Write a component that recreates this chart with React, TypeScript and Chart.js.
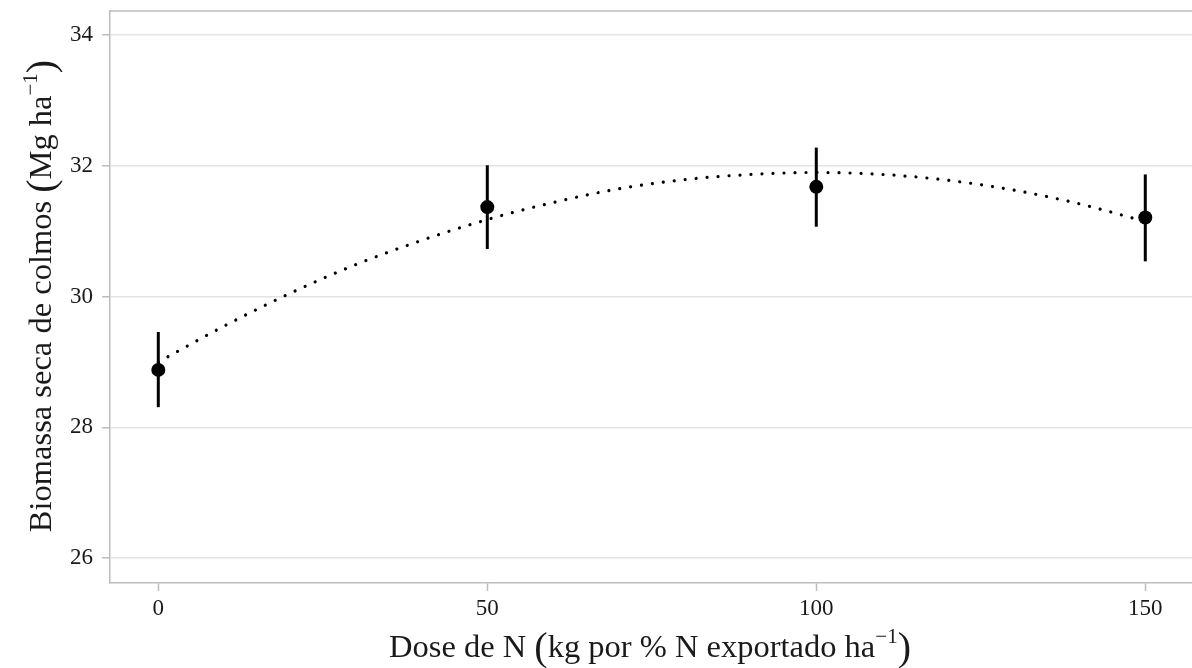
import React, { useEffect, useRef } from "react";
import { Chart, registerables } from "chart.js";

Chart.register(...registerables);

const doses = [0, 50, 100, 150];
const means = [28.88, 31.37, 31.68, 31.21];
const upper = [29.46, 32.01, 32.28, 31.87];
const lower = [28.31, 30.73, 31.07, 30.54];

const curveX = [0, 10, 20, 30, 40, 50, 60, 70, 80, 90, 100, 110, 120, 130, 140, 150];
const curveY = [29.0, 29.55, 30.05, 30.49, 30.86, 31.18, 31.44, 31.65, 31.79, 31.87, 31.9, 31.87, 31.78, 31.63, 31.42, 31.15];

const yTicks = [26, 28, 30, 32, 34];
const xTicks = [0, 50, 100, 150];

const FONT = "'Liberation Serif', 'Times New Roman', serif";
const TEXT = "#1a1a1a";
const AXIS = "#bdbdbd";
const GRID = "#e4e4e4";

type Seg = { t: string; size: number; dy: number };

function drawRich(ctx: CanvasRenderingContext2D, segs: Seg[]) {
  let total = 0;
  const widths = segs.map((s) => {
    ctx.font = `${s.size}px ${FONT}`;
    const w = ctx.measureText(s.t).width;
    total += w;
    return w;
  });
  let x = -total / 2;
  segs.forEach((s, i) => {
    ctx.font = `${s.size}px ${FONT}`;
    ctx.fillText(s.t, x, s.dy);
    x += widths[i];
  });
}

const titlePlugin = {
  id: "richTitles",
  afterDraw(chart: any) {
    const ctx = chart.ctx as CanvasRenderingContext2D;
    const area = chart.chartArea;
    ctx.save();
    ctx.fillStyle = TEXT;
    ctx.textBaseline = "alphabetic";
    ctx.textAlign = "left";
    ctx.strokeStyle = AXIS;
    ctx.lineWidth = 1.5;
    ctx.beginPath();
    ctx.moveTo(area.left, area.top);
    ctx.lineTo(area.right, area.top);
    ctx.stroke();
    ctx.save();
    ctx.translate(650, 657);
    drawRich(ctx, [
      { t: "Dose de N ", size: 32.5, dy: 0 },
      { t: "(", size: 40, dy: 3 },
      { t: "kg por % N exportado ha", size: 32.5, dy: 0 },
      { t: "\u22121", size: 21, dy: -14 },
      { t: ")", size: 40, dy: 3 },
    ]);
    ctx.restore();
    ctx.save();
    ctx.translate(51, 296);
    ctx.rotate(-Math.PI / 2);
    drawRich(ctx, [
      { t: "Biomassa seca de colmos ", size: 32.5, dy: 0 },
      { t: "(", size: 40, dy: 3 },
      { t: "Mg ha", size: 32.5, dy: 0 },
      { t: "\u22121", size: 21, dy: -14 },
      { t: ")", size: 40, dy: 3 },
    ]);
    ctx.restore();
    ctx.restore();
  },
};

export default function App() {
  const ref = useRef<HTMLCanvasElement | null>(null);

  useEffect(() => {
    document.body.style.margin = "0";
    const canvas = ref.current;
    if (!canvas) return;

    const errorSets = doses.map((d, i) => ({
      type: "line" as const,
      data: [
        { x: d, y: lower[i] },
        { x: d, y: upper[i] },
      ],
      borderColor: "#000",
      borderWidth: 3,
      pointRadius: 0,
      borderCapStyle: "butt" as const,
      order: 2,
    }));

    const chart = new Chart(canvas, {
      type: "scatter",
      data: {
        datasets: [
          {
            type: "line",
            data: curveX.map((x, i) => ({ x, y: curveY[i] })),
            borderColor: "#000",
            borderWidth: 3.2,
            borderDash: [0.01, 11],
            borderCapStyle: "round",
            pointRadius: 0,
            cubicInterpolationMode: "monotone",
            order: 3,
          } as any,
          ...errorSets,
          {
            type: "scatter",
            data: doses.map((d, i) => ({ x: d, y: means[i] })),
            backgroundColor: "#000",
            borderColor: "#000",
            pointRadius: 7,
            borderWidth: 0,
            order: 1,
          },
        ],
      },
      options: {
        animation: false,
        responsive: false,
        devicePixelRatio: 1,
        layout: { autoPadding: false, padding: { left: 0, right: 0, top: 11, bottom: 0 } },
        plugins: { legend: { display: false }, tooltip: { enabled: false } },
        scales: {
          x: {
            type: "linear",
            min: -7.34,
            max: 157.1,
            afterBuildTicks: (s: any) => {
              s.ticks = xTicks.map((v) => ({ value: v }));
            },
            afterFit: (s: any) => {
              s.height = 85;
              s.paddingLeft = 0;
              s.paddingRight = 0;
            },
            grid: {
              drawOnChartArea: false,
              drawTicks: true,
              tickLength: 8,
              tickColor: AXIS,
              tickWidth: 1.5,
            },
            border: { display: true, color: AXIS, width: 1.5 },
            ticks: {
              padding: 4,
              color: TEXT,
              font: { family: FONT, size: 23 },
              maxRotation: 0,
            },
          },
          y: {
            type: "linear",
            min: 25.62,
            max: 34.37,
            afterBuildTicks: (s: any) => {
              s.ticks = yTicks.map((v) => ({ value: v }));
            },
            afterFit: (s: any) => {
              s.width = 110;
              s.paddingTop = 0;
              s.paddingBottom = 0;
            },
            grid: {
              drawOnChartArea: true,
              color: GRID,
              lineWidth: 1.5,
              drawTicks: true,
              tickLength: 8,
              tickColor: AXIS,
              tickWidth: 1.5,
            },
            border: { display: true, color: AXIS, width: 1.5 },
            ticks: {
              padding: 9,
              color: TEXT,
              font: { family: FONT, size: 23 },
            },
          },
        },
      },
      plugins: [titlePlugin],
    });

    return () => chart.destroy();
  }, []);

  return (
    <div style={{ width: 1192, height: 668, background: "#fff" }}>
      <canvas ref={ref} width={1192} height={668} style={{ display: "block" }} />
    </div>
  );
}
